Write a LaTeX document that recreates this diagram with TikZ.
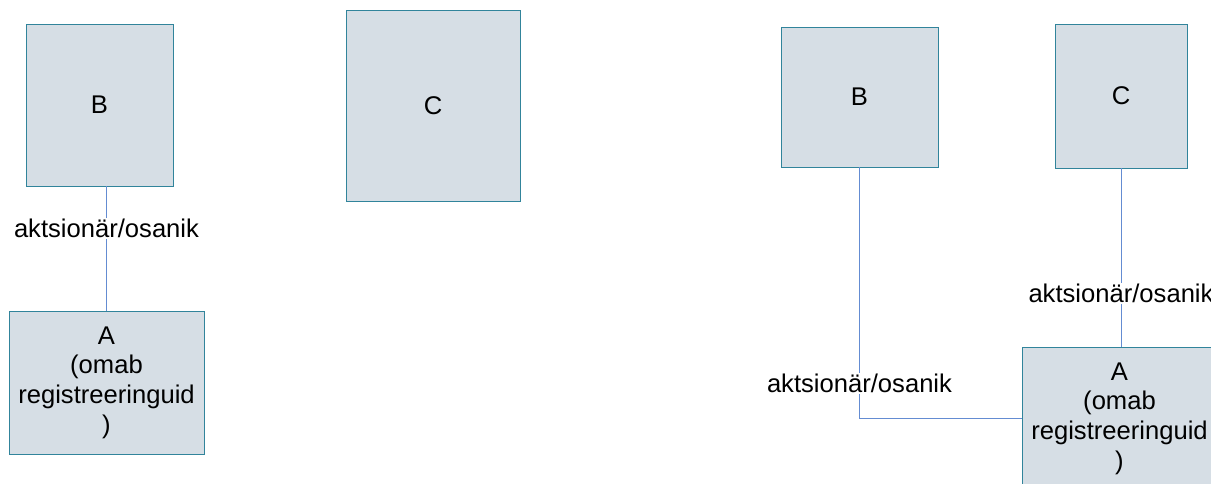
\documentclass[tikz,border=0pt]{standalone}
\usepackage{fontspec}
\setmainfont{Liberation Sans}
\definecolor{boxfill}{RGB}{214,222,229}
\definecolor{boxdraw}{RGB}{49,132,155}
\definecolor{linkcol}{RGB}{100,140,210}
\begin{document}
\begin{tikzpicture}[x=1pt,y=-1pt,
  ent/.style={draw=boxdraw,fill=boxfill,line width=0.9pt,inner sep=0pt,align=center,
    font=\fontsize{25.6}{29.6}\selectfont},
  link/.style={draw=linkcol,line width=0.9pt},
  lab/.style={fill=white,inner sep=1pt,font=\fontsize{25.6}{29.6}\selectfont}]
\useasboundingbox (0,0) rectangle (1211,484);
\fill[white] (0,0) rectangle (1211,484);
% left group
\node[ent,minimum width=147pt,minimum height=162pt] (B1) at (99.5,105) {B};
\node[ent,minimum width=174pt,minimum height=191pt] (C1) at (433,105.5) {C};
\node[ent,minimum width=195pt,minimum height=143pt] (A1) at (106.5,382.5) {A\\(omab\\registreeringuid\\)};
\draw[link] (A1.north |- B1.south) -- node[lab,pos=0.34] {aktsionär/osanik} (A1.north);
% right group
\node[ent,minimum width=157pt,minimum height=140pt] (B2) at (859.5,97) {B};
\node[ent,minimum width=132pt,minimum height=144pt] (C2) at (1121,96) {C};
\node[ent,minimum width=195pt,minimum height=143pt] (A2) at (1119.5,418.5) {A\\(omab\\registreeringuid\\)};
\draw[link] (B2.south) |- node[lab,pos=0.43] {aktsionär/osanik} (A2.west);
\draw[link] (C2.south) -- node[lab,pos=0.70] {aktsionär/osanik} (C2.south |- A2.north);
\end{tikzpicture}
\end{document}
